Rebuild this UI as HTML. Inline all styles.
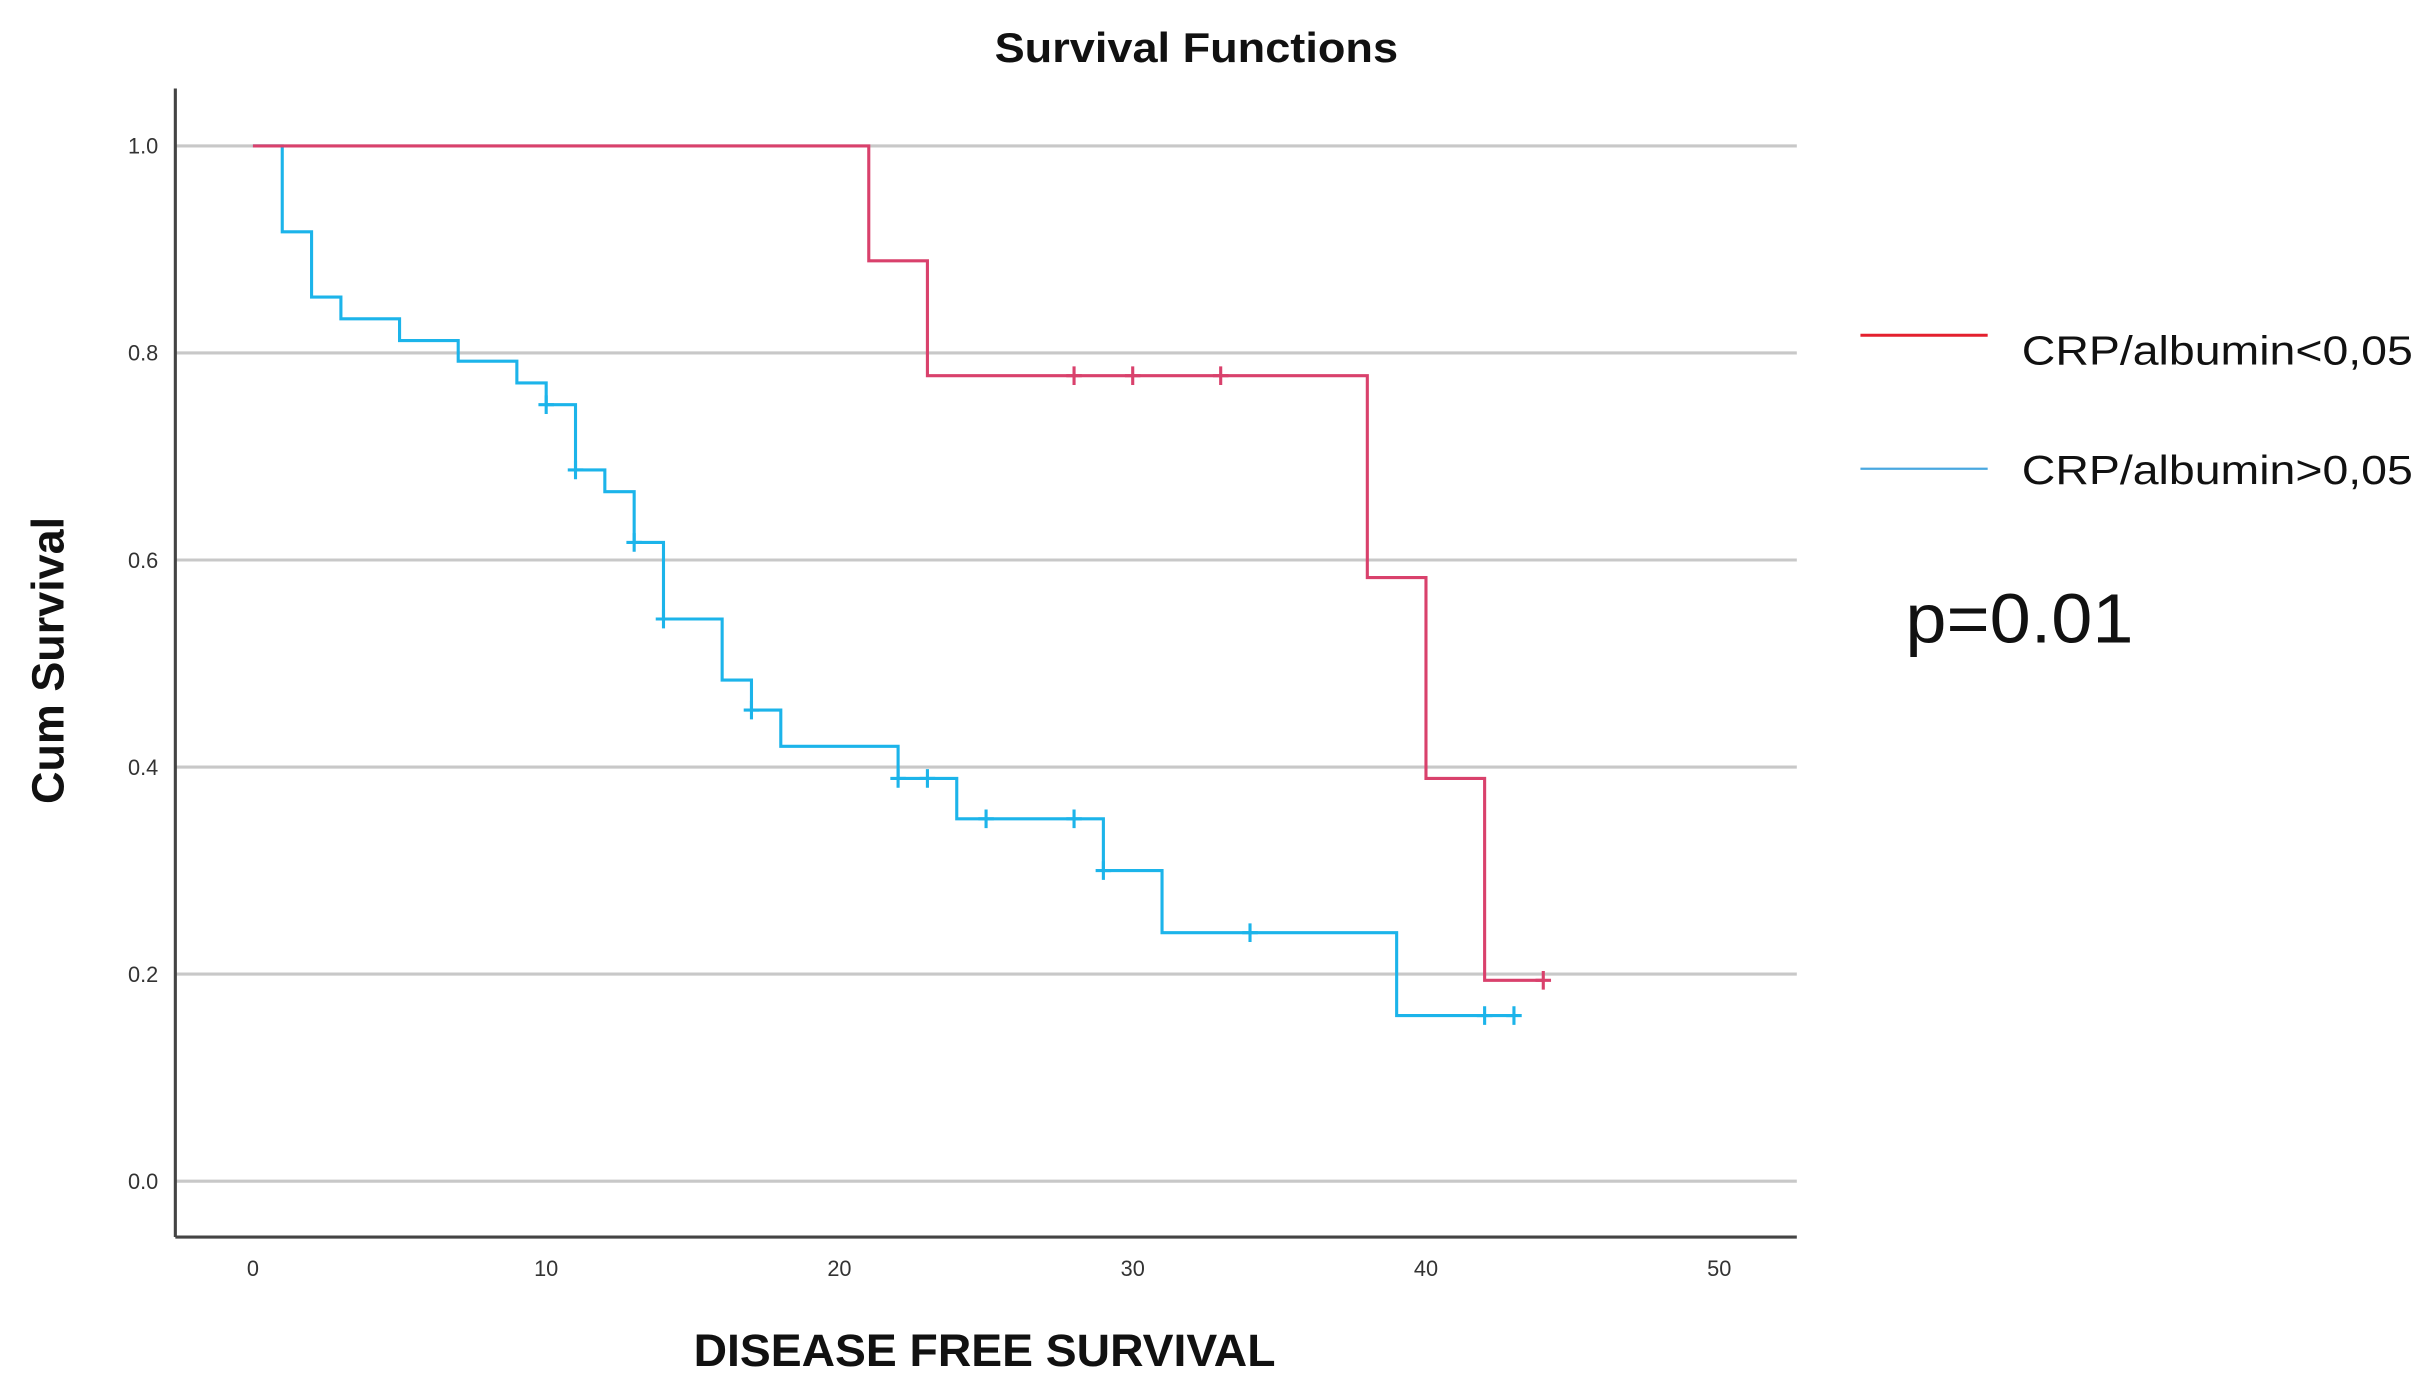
<!DOCTYPE html>
<html><head><meta charset="utf-8"><style>
html,body{margin:0;padding:0;background:#fff;}
svg{display:block;}
text{font-family:"Liberation Sans",sans-serif;}
</style></head><body>
<svg id="chart" width="2433" height="1400" viewBox="0 0 1568 902" preserveAspectRatio="none" xmlns="http://www.w3.org/2000/svg">
<rect width="1568" height="902" fill="#fff"/>
<text x="641" y="40" font-size="27" font-weight="bold" fill="#111" textLength="260" lengthAdjust="spacingAndGlyphs">Survival Functions</text>
<g id="grid"></g>
<line x1="113" y1="57" x2="113" y2="797" stroke="#444" stroke-width="2"/>
<line x1="113" y1="797" x2="1158" y2="797" stroke="#444" stroke-width="2"/>
<g id="ticks"></g>
<g id="series"></g>
<text x="447" y="880" font-size="29" font-weight="bold" fill="#111" textLength="375" lengthAdjust="spacingAndGlyphs">DISEASE FREE SURVIVAL</text>
<text transform="translate(41,518) rotate(-90)" font-size="29" font-weight="bold" fill="#111" textLength="185" lengthAdjust="spacingAndGlyphs">Cum Survival</text>
<g>
<line x1="1199" y1="216" x2="1281" y2="216" stroke="#e4202e" stroke-width="2"/>
<text x="1303" y="235" font-size="26" fill="#111" textLength="252" lengthAdjust="spacingAndGlyphs">CRP/albumin&lt;0,05</text>
<line x1="1199" y1="302" x2="1281" y2="302" stroke="#4aa8e0" stroke-width="1.5"/>
<text x="1303" y="312" font-size="26" fill="#111" textLength="252" lengthAdjust="spacingAndGlyphs">CRP/albumin&gt;0,05</text>
</g>
<text x="1228" y="414" font-size="45" fill="#111" textLength="147" lengthAdjust="spacingAndGlyphs">p=0.01</text>
</svg>
<script>
const xTicks=[0,10,20,30,40,50];
const yTicks=[0.0,0.2,0.4,0.6,0.8,1.0];
const redTimes=[0,21,23,38,40,42,44];
const redSurv=[1.0,0.889,0.778,0.583,0.389,0.194,0.194];
const redCensor=[28,30,33,44];
const blueTimes=[0,1,2,3,5,7,9,10,11,12,13,14,16,17,18,22,24,29,31,39,43];
const blueSurv=[1.0,0.917,0.854,0.833,0.812,0.792,0.771,0.75,0.687,0.666,0.617,0.543,0.484,0.455,0.42,0.389,0.35,0.30,0.24,0.16,0.16];
const blueCensor=[10,11,13,14,17,22,23,25,28,29,34,42,43];
const NS="http://www.w3.org/2000/svg";
function sx(t){return 163+t*18.9;}
function sy(v){return 761-v*667;}
function mk(tag,attrs,parent){const e=document.createElementNS(NS,tag);for(const k in attrs)e.setAttribute(k,attrs[k]);parent.appendChild(e);return e;}
const grid=document.getElementById('grid'),ticks=document.getElementById('ticks'),series=document.getElementById('series');
yTicks.forEach(v=>{
  const l=mk('line',{x1:113,x2:1158,y1:sy(v),y2:sy(v),stroke:'#c8c8c8','stroke-width':2},grid);
  
  
  const t=mk('text',{x:102,y:sy(v)+5,'text-anchor':'end','font-size':14,fill:'#333'},ticks);
  t.textContent=v.toFixed(1);
  
  
});
xTicks.forEach(v=>{
  const t=mk('text',{x:sx(v),y:822,'text-anchor':'middle','font-size':14,fill:'#333'},ticks);
  t.textContent=v;
  
  
});
function survAt(times,surv,t){let s=surv[0];for(let i=0;i<times.length;i++){if(times[i]<=t)s=surv[i];}return s;}
function draw(times,surv,cens,color,name){
  let d='M'+sx(times[0])+','+sy(surv[0]);
  for(let i=1;i<times.length;i++){d+=' H'+sx(times[i])+' V'+sy(surv[i]);}
  const p=mk('path',{d:d,fill:'none',stroke:color,'stroke-width':2},series);
  
  
  cens.forEach(c=>{
    const x=sx(c),y=sy(survAt(times,surv,c));
    const g=mk('path',{d:`M${x-5},${y} H${x+5} M${x},${y-6} V${y+6}`,stroke:color,'stroke-width':2},series);
    
    
  });
}
draw(blueTimes,blueSurv,blueCensor,'#1cb4ea','high-crp');
draw(redTimes,redSurv,redCensor,'#d9416c','low-crp');
</script>
</body></html>
